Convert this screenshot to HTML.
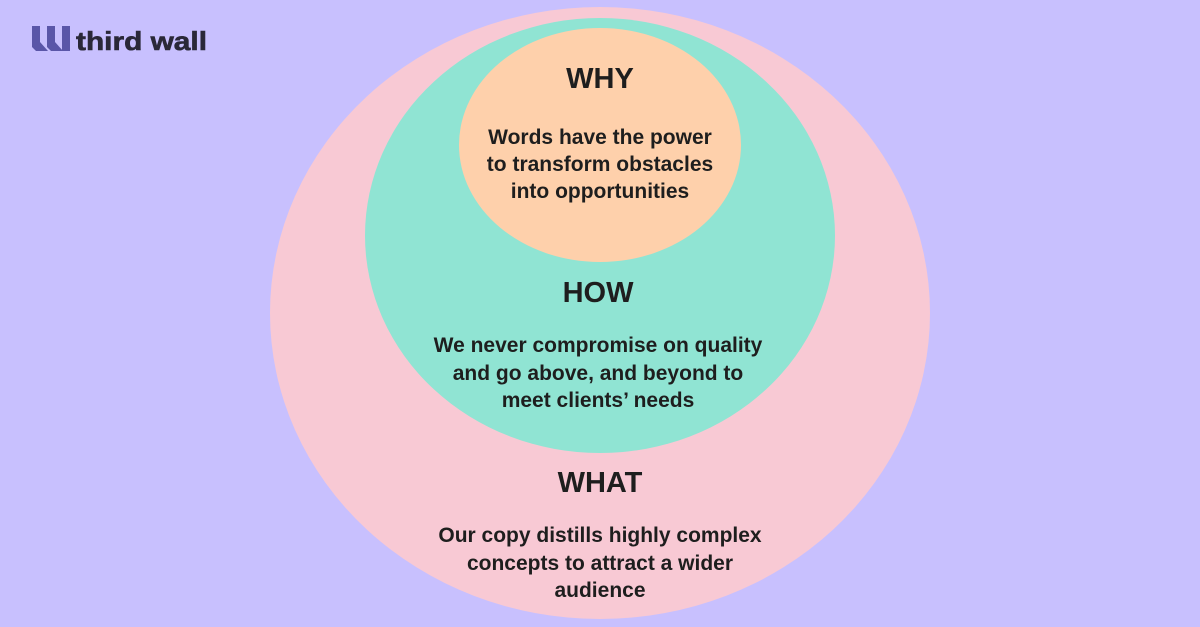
<!DOCTYPE html>
<html>
<head>
<meta charset="utf-8">
<style>
  html, body { margin: 0; padding: 0; }
  body { width: 1200px; height: 627px; overflow: hidden; background: #C8C0FE; }
  svg { display: block; }
  .h { font-family: "Liberation Sans", Arial, sans-serif; font-weight: 700; font-size: 29px; fill: #1e1e1e; }
  .b { font-family: "Liberation Sans", Arial, sans-serif; font-weight: 700; font-size: 21px; fill: #1e1e1e; }
</style>
</head>
<body>
<svg width="1200" height="627" viewBox="0 0 1200 627" xmlns="http://www.w3.org/2000/svg">
  <rect x="0" y="0" width="1200" height="627" fill="#C8C0FE"/>

  <!-- logo -->
  <g fill="#5A56A8">
    <polygon points="32,26 40,26 40,42 48,51 36,51 32,47"/>
    <polygon points="47,26 55,26 55,42 63,51 51,51 47,47"/>
    <polygon points="62,26 70,26 70,51 62,51"/>
  </g>
  <text x="76" y="50" textLength="131" lengthAdjust="spacingAndGlyphs" font-family="Liberation Sans, Arial, sans-serif" font-weight="700" font-size="26" fill="#2A2838" stroke="#2A2838" stroke-width="0.6">third wall</text>

  <!-- circles -->
  <ellipse cx="600" cy="313" rx="330" ry="306" fill="#F8C9D4"/>
  <ellipse cx="600" cy="235.5" rx="235" ry="217.5" fill="#90E4D3"/>
  <ellipse cx="600" cy="145" rx="141" ry="117" fill="#FED0AB"/>

  <!-- WHY -->
  <text class="h" x="600" y="88" text-anchor="middle">WHY</text>
  <text class="b" x="600" y="144" text-anchor="middle">Words have the power</text>
  <text class="b" x="600" y="171" text-anchor="middle">to transform obstacles</text>
  <text class="b" x="600" y="198" text-anchor="middle">into opportunities</text>

  <!-- HOW -->
  <text class="h" x="598" y="302" text-anchor="middle">HOW</text>
  <text class="b" x="598" y="352" text-anchor="middle">We never compromise on quality</text>
  <text class="b" x="598" y="380" text-anchor="middle">and go above, and beyond to</text>
  <text class="b" x="598" y="407" text-anchor="middle">meet clients’ needs</text>

  <!-- WHAT -->
  <text class="h" x="600" y="492" text-anchor="middle">WHAT</text>
  <text class="b" x="600" y="542" text-anchor="middle">Our copy distills highly complex</text>
  <text class="b" x="600" y="570" text-anchor="middle">concepts to attract a wider</text>
  <text class="b" x="600" y="597" text-anchor="middle">audience</text>
</svg>
</body>
</html>
